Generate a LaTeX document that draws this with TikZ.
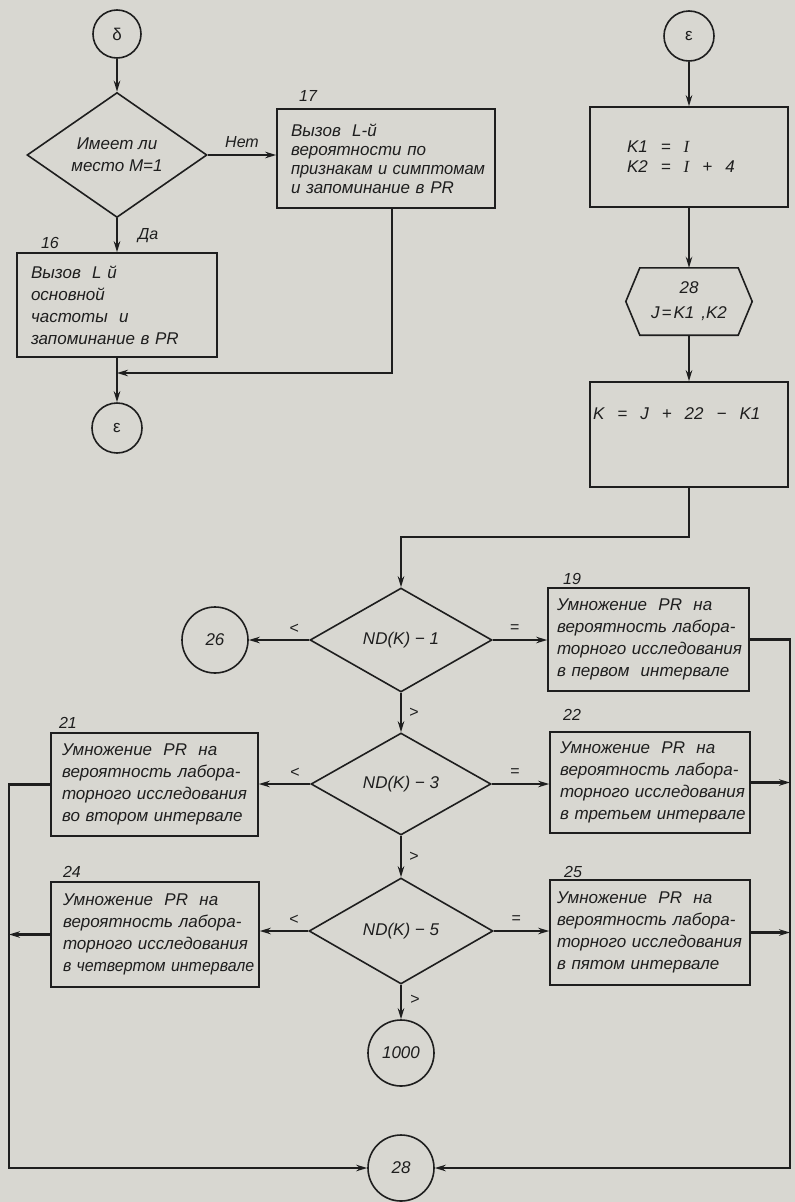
\documentclass[tikz,border=0pt]{standalone}
\usepackage{fontspec}
\usepackage{graphicx}
\setmainfont{Liberation Sans}
\newfontfamily\romanface{Liberation Serif}
\usetikzlibrary{shapes.geometric,arrows.meta,calc}

\definecolor{paper}{RGB}{216,215,209}
\definecolor{ink}{RGB}{30,30,30}

% wide gap used in the assignment formulas
\newcommand{\wsp}{\hspace{13pt}}
\newcommand{\romI}{{\romanface\itshape I}}
% a slightly condensed line of box text
\newcommand{\narrowline}[1]{\scalebox{0.94}[1]{#1}}

\begin{document}
\begin{tikzpicture}[x=1pt, y=-1pt,
  every node/.style={text=ink, font=\fontsize{17}{22}\selectfont\itshape},
  outline/.style={draw=ink, line width=1.6pt},
  blk/.style={outline, rectangle, align=left, inner ysep=0pt},
  cond/.style={outline, diamond, inner sep=0pt, align=center},
  term/.style={outline, circle, inner sep=0pt},
  flow/.style={draw=ink, line width=2.2pt, -{Stealth[length=11pt,width=6.5pt]}},
  tag/.style={inner sep=0pt, font=\fontsize{16}{18}\selectfont\itshape},
]
% paper
\fill[paper] (0,0) rectangle (795,1202);
\useasboundingbox (0,0) rectangle (795,1202);

% ---------- left column: choice of the probability ----------
\node[term, minimum size=48pt] (delta) at (117,34) {\upshape δ};
\node[cond, minimum width=180pt, minimum height=102pt] (q1) at (117,155) {Имеет ли\\место M=1};
\node[blk, minimum width=218pt, minimum height=99pt, text width=190pt, inner xsep=14pt,
      font=\fontsize{17}{19}\selectfont\itshape] (b17) at (386,158.5)
  {Вызов~~L-й\\вероятности~по\\\scalebox{0.97}[1]{признакам~и~симптомам}\\и~запоминание~в~PR};
\node[tag] (n17) at (308,96) {17};
\node[blk, minimum width=200pt, minimum height=104pt, text width=172pt, inner xsep=14pt] (b16) at (117,305)
  {Вызов~~L~й\\основной\\частоты~~и\\запоминание~в~PR};
\node[tag] (n16) at (50,243) {16};
\node[term, minimum size=50pt] (eps1) at (117,428) {\upshape ε};
\coordinate (m1) at (117,373);
\coordinate (m17) at (392,373);

\draw[flow] (delta.south) -- (q1.north);
\draw[flow] (q1.east) -- node[tag, above=6pt] {Нет} (q1.east -| b17.west);
\draw[flow] (q1.south) -- node[tag, right=20pt] {Да} (b16.north);
\draw[flow] (b16.south) -- (eps1.north);
\draw[flow] (b17.south -| m17) -- (m17) -- (m1);

% ---------- right column: loop over the tests ----------
\node[term, minimum size=50pt] (eps2) at (689,36) {\upshape ε};
\node[blk, minimum width=198pt, minimum height=100pt, text width=124pt, inner xsep=37pt,
      font=\fontsize{17}{20}\selectfont\itshape] (b1) at (689,157)
  {K1\wsp=\wsp\romI\\K2\wsp=\wsp\romI\wsp+\wsp4};
\node[inner sep=0pt, minimum width=98pt, minimum height=67pt, align=center,
      font=\fontsize{17}{25}\selectfont\itshape] (loop) at (689,301.5)
  {28\\J\hspace{2pt}=\hspace{2pt}K1\hspace{7pt},K2};
\draw[outline] ($(loop.west)+(-14,0)$) -- (loop.north west) -- (loop.north east)
  -- ($(loop.east)+(14,0)$) -- (loop.south east) -- (loop.south west) -- cycle;
\node[blk, minimum width=198pt, minimum height=105pt, text width=192pt, inner xsep=3pt] (b2) at (689,434.5)
  {\raisebox{21pt}[\height][\depth]{K\wsp=\wsp J\wsp+\wsp22\wsp−\wsp K1}};

\draw[flow] (eps2.south) -- (b1.north);
\draw[flow] (b1.south) -- (loop.north);
\draw[flow] (loop.south) -- (b2.north);

% ---------- comparisons of ND(K) ----------
\node[cond, minimum width=182pt, minimum height=104pt] (d1) at (401,640) {ND(K) − 1};
\node[cond, minimum width=180pt, minimum height=102pt] (d2) at (401,784) {ND(K) − 3};
\node[cond, minimum width=184pt, minimum height=106pt] (d3) at (401,931) {ND(K) − 5};

\node[term, minimum size=66pt] (c26) at (215,640) {26};
\node[term, minimum size=66pt] (c1000) at (401,1053) {1000};
\node[term, minimum size=66pt] (c28) at (401,1168) {28};

\node[blk, minimum width=201pt, minimum height=103pt, text width=183pt, inner xsep=9pt] (b19) at (648.5,639.5)
  {Умножение~~PR~~на\\вероятность~лабора-\\торного~исследования\\в~первом~~интервале};
\node[tag] (n19) at (572,579) {19};
\node[blk, minimum width=207pt, minimum height=103pt, text width=185pt, inner xsep=11pt] (b21) at (154.5,784.5)
  {Умножение~~PR~~на\\вероятность~лабора-\\торного~исследования\\во~втором~интервале};
\node[tag] (n21) at (68,723) {21};
\node[blk, minimum width=200pt, minimum height=101pt, text width=180pt, inner xsep=10pt] (b22) at (650,782.5)
  {Умножение~~PR~~на\\вероятность~лабора-\\торного~исследования\\в~третьем~интервале};
\node[tag] (n22) at (572,715) {22};
\node[blk, minimum width=208pt, minimum height=105pt, text width=184pt, inner xsep=12pt] (b24) at (155,934.5)
  {Умножение~~PR~~на\\вероятность~лабора-\\торного~исследования\\\narrowline{в~четвертом~интервале}};
\node[tag] (n24) at (72,872) {24};
\node[blk, minimum width=200pt, minimum height=105pt, text width=186pt, inner xsep=7pt] (b25) at (650,932.5)
  {Умножение~~PR~~на\\вероятность~лабора-\\торного~исследования\\в~пятом~интервале};
\node[tag] (n25) at (573,872) {25};

\coordinate (j1) at (401,537);
\coordinate (rail) at (790,1168);
\coordinate (lrail) at (9,1168);

\draw[flow] (b2.south) |- (j1) -- (d1.north);

\draw[flow] (d1.west) -- node[tag, pos=0.25, above=5pt] {<} (c26.east);
\draw[flow] (d1.east) -- node[tag, pos=0.4, above=6pt] {=} (d1.east -| b19.west);
\draw[flow] (d1.south) -- node[tag, right=7pt] {>} (d2.north);

\draw[flow] (d2.west) -- node[tag, pos=0.3, above=5pt] {<} (d2.west -| b21.east);
\draw[flow] (d2.east) -- node[tag, pos=0.4, above=6pt] {=} (d2.east -| b22.west);
\draw[flow] (d2.south) -- node[tag, right=7pt] {>} (d3.north);

\draw[flow] (d3.west) -- node[tag, pos=0.3, above=5pt] {<} (d3.west -| b24.east);
\draw[flow] (d3.east) -- node[tag, pos=0.4, above=6pt] {=} (d3.east -| b25.west);
\draw[flow] (d3.south) -- node[tag, pos=0.45, right=8pt] {>} (c1000.north);

% return paths into connector 28
\draw[flow] (b19.east) -| (rail) -- (c28.east);
\draw[flow] (b22.east) -- (b22.east -| rail);
\draw[flow] (b25.east) -- (b25.east -| rail);
\draw[flow] (b21.west) -| (lrail) -- (c28.west);
\draw[flow] (b24.west) -- (b24.west -| lrail);
\end{tikzpicture}
\end{document}
